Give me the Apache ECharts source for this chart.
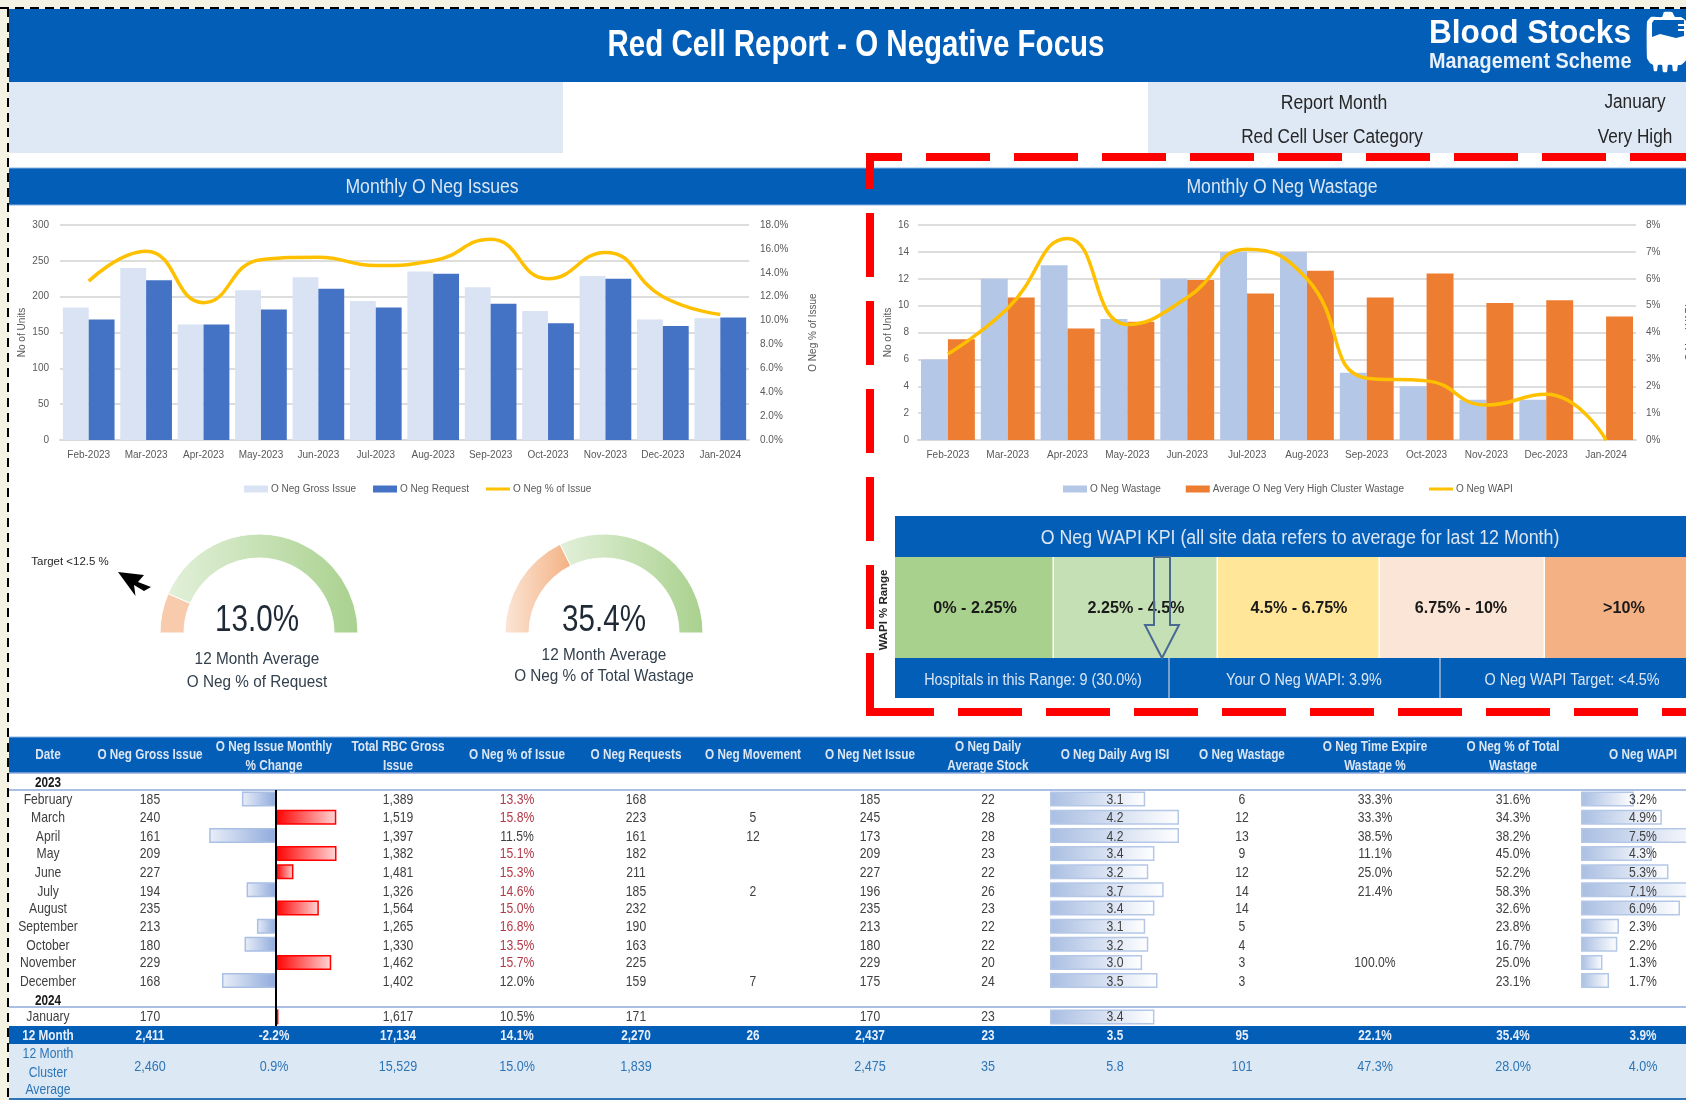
<!DOCTYPE html>
<html>
<head>
<meta charset="utf-8">
<title>Red Cell Report - O Negative Focus</title>
<script src="https://cdn.jsdelivr.net/npm/echarts@6/dist/echarts.min.js"></script>
<style>html,body{margin:0;padding:0;background:#F3F2E3;overflow:hidden}#c{width:1686px;height:1100px}</style>
</head>
<body>
<div id="c"></div>
<script>
// ---------- chart data ----------
const months = ['Feb-2023','Mar-2023','Apr-2023','May-2023','Jun-2023','Jul-2023','Aug-2023','Sep-2023','Oct-2023','Nov-2023','Dec-2023','Jan-2024'];
const grossIssue = [185,240,161,209,227,194,235,213,180,229,168,170];
const requests = [168,223,161,182,211,185,232,190,163,225,159,171];
const pctOfIssue = [13.3,15.8,11.5,15.1,15.3,14.6,15.0,16.8,13.5,15.7,12.0,10.5];
const wastage = [6,12,13,9,12,14,14,5,4,3,3,null];
const clusterWastage = [7.5,10.6,8.3,8.8,11.9,10.9,12.6,10.6,12.4,10.2,10.4,9.2];
const wapi = [3.2,4.9,7.5,4.3,5.3,7.1,6.0,2.3,2.2,1.3,1.7,0];
const gaugeRequest = 13.0;
const gaugeWastage = 35.4;

// ---------- table data ----------
const tableRows = ['February','March','April','May','June','July','August','September','October','November','December','2024','January'];
const monthlyChange = [-16.8,29.7,-32.9,29.8,8.6,-14.5,21.1,-9.4,-15.5,27.2,-26.6,null,1.2];
const dailyIsi = [3.1,4.2,4.2,3.4,3.2,3.7,3.4,3.1,3.2,3.0,3.5,null,3.4];
const wapiBars = [3.2,4.9,7.5,4.3,5.3,7.1,6.0,2.3,2.2,1.3,1.7,null,null];
const colHeaders = [['Date'],['O Neg Gross Issue'],['O Neg Issue Monthly','% Change'],['Total RBC Gross','Issue'],['O Neg % of Issue'],['O Neg Requests'],['O Neg Movement'],['O Neg Net Issue'],['O Neg Daily','Average Stock'],['O Neg Daily Avg ISI'],['O Neg Wastage'],['O Neg Time Expire','Wastage %'],['O Neg % of Total','Wastage'],['O Neg WAPI']];
const colDate = ['February','March','April','May','June','July','August','September','October','November','December','','January'];
const colGross = ['185','240','161','209','227','194','235','213','180','229','168','','170'];
const colTotal = ['1,389','1,519','1,397','1,382','1,481','1,326','1,564','1,265','1,330','1,462','1,402','','1,617'];
const colPct = ['13.3%','15.8%','11.5%','15.1%','15.3%','14.6%','15.0%','16.8%','13.5%','15.7%','12.0%','','10.5%'];
const colReq = ['168','223','161','182','211','185','232','190','163','225','159','','171'];
const colMove = ['','5','12','','','2','','','','','7','',''];
const colNet = ['185','245','173','209','227','196','235','213','180','229','175','','170'];
const colStock = ['22','28','28','23','22','26','23','22','22','20','24','','23'];
const colIsi = ['3.1','4.2','4.2','3.4','3.2','3.7','3.4','3.1','3.2','3.0','3.5','','3.4'];
const colWaste = ['6','12','13','9','12','14','14','5','4','3','3','',''];
const colExpire = ['33.3%','33.3%','38.5%','11.1%','25.0%','21.4%','','','','100.0%','','',''];
const colTotalW = ['31.6%','34.3%','38.2%','45.0%','52.2%','58.3%','32.6%','23.8%','16.7%','25.0%','23.1%','',''];
const colWapi = ['3.2%','4.9%','7.5%','4.3%','5.3%','7.1%','6.0%','2.3%','2.2%','1.3%','1.7%','',''];
const totals12 = ['12 Month','2,411','-2.2%','17,134','14.1%','2,270','26','2,437','23','3.5','95','22.1%','35.4%','3.9%'];
const cluster12 = ['','2,460','0.9%','15,529','15.0%','1,839','','2,475','35','5.8','101','47.3%','28.0%','4.0%'];
const clusterLabel = ['12 Month','Cluster','Average'];
const kpiRanges = ['0% - 2.25%','2.25% - 4.5%','4.5% - 6.75%','6.75% - 10%','>10%'];
const kpiFooter = ['Hospitals in this Range: 9 (30.0%)','Your O Neg WAPI: 3.9%','O Neg WAPI Target: <4.5%'];

// ---------- layout & style ----------
const SANS = '"Liberation Sans",Arial,sans-serif';
const BLUE = '#035EB8', PALE = '#DEE9F5', HEADTXT = '#DCE6F2', CELL = '#3F3F3F', AXIS = '#595959';
const colX = [48,150,274,398,517,636,753,870,988,1115,1242,1375,1513,1643];
const rowY = [799,817,836,853,872,891,908,926,945,962,981,1000,1016];
const kpiX = [895,1054,1218,1380,1545,1686];
const kpiFill = ['#A9D18E','#C5E0B4','#FFE699','#FBE5D6','#F4B183'];
const kpiLabelX = [975,1136,1299,1461,1624];
const kpiFootX = [1033,1304,1572];

const back = [], front = [];
const rect = (x,y,w,h,fill,arr=back,stroke,lw) => arr.push({type:'rect',shape:{x,y,width:w,height:h},style:{fill,stroke,lineWidth:lw},silent:true});
const line = (x1,y1,x2,y2,stroke,lw,arr=back,dash,off) => arr.push({type:'line',shape:{x1,y1,x2,y2},style:{stroke,lineWidth:lw,lineDash:dash,lineDashOffset:off||0},silent:true});
const text = (t,x,y,size,fill,opt={}) => front.push({type:'text',x,y:y+1,rotation:opt.rot||0,scaleX:opt.sx||0.9,scaleY:1,silent:true,style:{text:t,fill,font:(opt.bold?'bold ':'')+size+'px '+SANS,align:opt.align||'center',verticalAlign:'middle'}});

// page
rect(9,9,1677,1091,'#FFFFFF');
rect(9,9,1677,73,BLUE);
rect(9,82,554,71,PALE);
rect(1148,82,538,71,PALE);
rect(9,168,1677,37,BLUE);
line(9,168,1686,168,'#8DB4E2',1);
line(9,205,1686,205,'#8DB4E2',1);
line(0,8,1686,8,'#000000',2,back,[9,6]);
line(8,8,8,1100,'#000000',2,back,[9,6]);

text('Red Cell Report - O Negative Focus',856,45,36,'#FFFFFF',{bold:true,sx:0.82});
text('Blood Stocks',1429,33,34,'#FFFFFF',{bold:true,align:'left',sx:0.93});
text('Management Scheme',1429,61,22,'#E8F0FA',{bold:true,align:'left',sx:0.9});
text('Report Month',1334,102,20,'#262626',{sx:0.88});
text('Red Cell User Category',1332,136,20,'#262626',{sx:0.86});
text('January',1635,101,20,'#262626',{sx:0.86});
text('Very High',1635,136,20,'#262626',{sx:0.86});
text('Monthly O Neg Issues',432,186,20,HEADTXT,{sx:0.88});
text('Monthly O Neg Wastage',1282,186,20,HEADTXT,{sx:0.88});

// logo blood-bag icon
front.push({type:'polygon',silent:true,shape:{smooth:0.15,points:[[1662,17],[1664,12],[1672,12],[1675,17],[1681,17],[1686,21],[1686,60],[1681,65],[1678,65],[1677,71],[1673,71],[1672,65],[1668,65],[1667,72],[1663,72],[1662,65],[1658,65],[1657,71],[1654,71],[1653,65],[1650,63],[1647,58],[1647,22],[1651,17]]},style:{fill:'#FFFFFF'}});
front.push({type:'polygon',silent:true,shape:{points:[[1652,23],[1654,20],[1684,20],[1684,24],[1678,24],[1678,26],[1684,26],[1684,29],[1678,29],[1678,31],[1684,31],[1684,36],[1676,38],[1668,36],[1660,34],[1652,37]]},style:{fill:BLUE}});

// KPI block
rect(895,516,791,41,BLUE);
text('O Neg WAPI KPI (all site data refers to average for last 12 Month)',1300,537,20,HEADTXT,{sx:0.89});
kpiRanges.forEach((t,i)=>{
  rect(kpiX[i],557,kpiX[i+1]-kpiX[i]-(i<4?1.5:0),101,kpiFill[i]);
  text(t,kpiLabelX[i],607,17,'#1A1A1A',{bold:true,sx:0.95});
});
rect(895,658,791,40,BLUE);
line(1169,658,1169,698,'#9DB8DA',1.5);
line(1440,658,1440,698,'#9DB8DA',1.5);
kpiFooter.forEach((t,i)=>text(t,kpiFootX[i],680,16,HEADTXT,{sx:0.9}));
text('WAPI % Range',884,609,11,'#262626',{bold:true,rot:Math.PI/2,sx:1.04});
front.push({type:'polygon',silent:true,shape:{points:[[1154,557],[1154,625],[1145,625],[1162,658],[1179,625],[1170,625],[1170,557]]},style:{fill:'none',stroke:'#4A6A94',lineWidth:2}});

// red dashed callout
const RD=[64,24];
line(866,157,1686,157,'#FF0000',8,front,RD,28);
line(870,153,870,716,'#FF0000',8,front,RD,28);
line(870,712,1686,712,'#FF0000',8,front,RD,0);

// gauge text
text('13.0%',257,620,37,'#1F2A36',{sx:0.8});
text('12 Month Average',257,658,17,'#33404D');
text('O Neg % of Request',257,681,17,'#33404D');
text('35.4%',604,620,37,'#1F2A36',{sx:0.8});
text('12 Month Average',604,654,17,'#33404D');
text('O Neg % of Total Wastage',604,675,17,'#33404D');
text('Target <12.5 %',70,561,11,'#262626',{sx:1.04});
front.push({type:'polygon',silent:true,shape:{points:[[118,572],[144,575],[138,582],[151,587],[144,591],[134,585],[135.5,596]]},style:{fill:'#000000'}});

// table frame
rect(9,737,1677,36,BLUE);
line(9,737,1686,737,'#8DB4E2',1);
line(9,773,1686,773,'#8FAADC',1.5);
line(9,790,1686,790,'#8FAADC',1.5);
line(9,1007,1686,1007,'#8FAADC',1.5);
rect(9,1026,1677,18,BLUE);
rect(9,1044,1677,54,'#DCE9F5');
line(9,1099,1686,1099,'#2E75B6',2);
colHeaders.forEach((h,i)=>{
  if(h.length===1) text(h[0],colX[i],754,14,HEADTXT,{bold:true,sx:0.84});
  else { text(h[0],colX[i],746,14,HEADTXT,{bold:true,sx:0.84}); text(h[1],colX[i],765,14,HEADTXT,{bold:true,sx:0.84}); }
});
text('2023',48,782,14,'#1A1A1A',{bold:true,sx:0.84});
text('2024',48,1000,14,'#1A1A1A',{bold:true,sx:0.84});
[colDate,colGross,null,colTotal,colPct,colReq,colMove,colNet,colStock,colIsi,colWaste,colExpire,colTotalW,colWapi].forEach((col,c)=>{
  if(!col) return;
  col.forEach((v,r)=>{
    if(!v) return;
    const hot = c===4 && parseFloat(v)>12.5;
    text(v,colX[c],rowY[r],14.5,hot?'#B23A48':CELL,{sx:0.84});
  });
});
totals12.forEach((v,c)=>text(v,colX[c],1035,14,'#E6EEF8',{bold:true,sx:0.84}));
cluster12.forEach((v,c)=>{ if(v) text(v,colX[c],1066,15,'#2E75B6',{sx:0.84}); });
clusterLabel.forEach((t,i)=>text(t,48,[1053,1072,1089][i],14.5,'#2E75B6',{sx:0.84}));
line(276,790,276,1026,'#000000',2,front);
back.forEach(e=>{e.z=-10;});
front.forEach(e=>{e.z=100;});

// helpers for options
const axisLabel = {fontFamily:SANS,fontSize:10,color:AXIS};
const axisNameStyle = {fontFamily:SANS,fontSize:10,color:AXIS};
const fade = (a,b)=>({type:'linear',x:0,y:0,x2:1,y2:0,colorStops:[{offset:0,color:a},{offset:1,color:b}]});
const xCat = g => ({type:'category',gridIndex:g,data:months,axisTick:{show:false},axisLine:{lineStyle:{color:'#D9D9D9',width:2}},axisLabel:{...axisLabel,margin:10,interval:0}});
const yVal = (g,max,step,fmt,name,gap,grid=true,pos='left',margin=8) => ({type:'value',gridIndex:g,min:0,max,interval:step,position:pos,splitLine:{show:grid,lineStyle:{color:'#DDDDDD',width:2}},axisLine:{show:false},axisTick:{show:false},axisLabel:{...axisLabel,margin,formatter:fmt},name,nameLocation:'middle',nameRotate:90,nameGap:gap,nameTextStyle:axisNameStyle});
const hiddenX = (g,min,max)=>({type:'value',gridIndex:g,min,max,show:false});
const hiddenY = g =>({type:'category',gridIndex:g,data:tableRows,inverse:true,show:false});
const tableBar = (g,vals,style)=>({type:'bar',xAxisIndex:g,yAxisIndex:g+2,barWidth:15,silent:true,data:vals.map(v=>v==null?null:{value:v,itemStyle:style(v)})});
const pieGauge = (cx,v,orange,green)=>({type:'pie',center:[cx,633],radius:[75,99],startAngle:180,silent:true,label:{show:false},labelLine:{show:false},
  data:[{value:v,itemStyle:{color:orange,borderColor:'#fff',borderWidth:1}},{value:100-v,itemStyle:{color:green,borderColor:'#fff',borderWidth:1}},{value:100,itemStyle:{color:'transparent',borderWidth:0}}]});
const LINE_ICON = 'path://M0 0H24V3H0Z';
const legendText = {fontFamily:SANS,fontSize:10,color:AXIS,padding:[0,0,0,-2]};
const freeGrid = (left,top,width,height)=>({left,top,width,height,outerBoundsMode:'none'});

const option = {
  animation:false,
  backgroundColor:'#F3F2E3',
  textStyle:{fontFamily:SANS},
  graphic:{elements:[
    {type:'group',z:-10,silent:true,children:back},
    {type:'group',z:100,silent:true,children:front}
  ]},
  grid:[
    freeGrid(60,225,689,215),
    freeGrid(918,225,718,215),
    freeGrid(209,790,134,236),
    freeGrid(1050,790,129,236),
    freeGrid(1581,790,132,236)
  ],
  legend:[
    {left:239,top:479,itemGap:17,itemWidth:24,itemHeight:7,textStyle:legendText,
     data:[{name:'O Neg Gross Issue',icon:'rect'},{name:'O Neg Request',icon:'rect'},{name:'O Neg % of Issue',icon:LINE_ICON}]},
    {left:1058,top:479,itemGap:25,itemWidth:24,itemHeight:7,textStyle:legendText,
     data:[{name:'O Neg Wastage',icon:'rect'},{name:'Average O Neg Very High Cluster Wastage',icon:'rect'},{name:'O Neg WAPI',icon:LINE_ICON}]}
  ],
  xAxis:[xCat(0),xCat(1),hiddenX(2,-33,33),hiddenX(3,0,4.2),hiddenX(4,0,8)],
  yAxis:[
    yVal(0,300,50,v=>v,'No of Units',32.5,true,'left',11),
    yVal(0,18,2,v=>v.toFixed(1)+'%','O Neg % of Issue',59,false,'right',11),
    yVal(1,16,2,v=>v,'No of Units',25,true,'left',9),
    yVal(1,8,1,v=>v+'%','O Neg WAPI',49,false,'right',10),
    hiddenY(2),hiddenY(3),hiddenY(4)
  ],
  series:[
    {name:'O Neg Gross Issue',type:'bar',xAxisIndex:0,yAxisIndex:0,barGap:0,barCategoryGap:'10%',itemStyle:{color:'#DAE3F3'},data:grossIssue},
    {name:'O Neg Request',type:'bar',xAxisIndex:0,yAxisIndex:0,itemStyle:{color:'#4472C4'},data:requests},
    {name:'O Neg % of Issue',type:'line',xAxisIndex:0,yAxisIndex:1,smooth:0.5,symbol:'none',lineStyle:{color:'#FFC000',width:3.5},itemStyle:{color:'#FFC000'},data:pctOfIssue},
    {name:'O Neg Wastage',type:'bar',xAxisIndex:1,yAxisIndex:2,barGap:0,barCategoryGap:'10%',itemStyle:{color:'#B4C7E7'},data:wastage},
    {name:'Average O Neg Very High Cluster Wastage',type:'bar',xAxisIndex:1,yAxisIndex:2,itemStyle:{color:'#ED7D31'},data:clusterWastage},
    {name:'O Neg WAPI',type:'line',xAxisIndex:1,yAxisIndex:3,smooth:0.5,symbol:'none',lineStyle:{color:'#FFC000',width:3.5},itemStyle:{color:'#FFC000'},data:wapi},
    tableBar(2,monthlyChange,v=>v<0
      ?{color:fade('#E9EEF8','#8FAADC'),borderColor:'#A9BFE3',borderWidth:1.5}
      :{color:fade('#FF0000','#FFD6D6'),borderColor:'#FF0000',borderWidth:1.5}),
    tableBar(3,dailyIsi,()=>({color:fade('#A9BEE2','#FFFFFF'),borderColor:'#B4C7E7',borderWidth:1.5})),
    tableBar(4,wapiBars,()=>({color:fade('#A9BEE2','#FFFFFF'),borderColor:'#B4C7E7',borderWidth:1.5})),
    pieGauge(259,gaugeRequest,'#F8CBAD',fade('#E2F0D9','#A9D18E')),
    pieGauge(604,gaugeWastage,fade('#FBE5D6','#F4B183'),fade('#E2F0D9','#A9D18E'))
  ]
};
const chart = echarts.init(document.getElementById('c'),null,{renderer:'canvas',width:1686,height:1100});
chart.setOption(option);
</script>
</body>
</html>
